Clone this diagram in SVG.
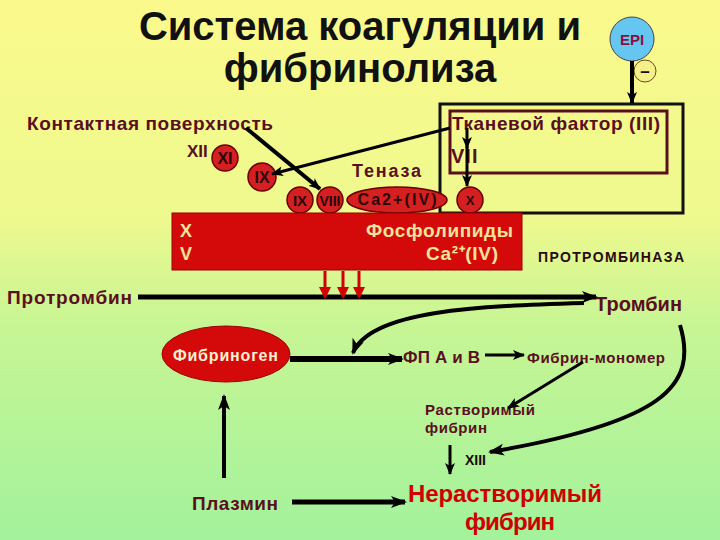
<svg xmlns="http://www.w3.org/2000/svg" width="720" height="540" viewBox="0 0 720 540">
<defs>
<linearGradient id="bg" x1="0" y1="0" x2="0" y2="1">
<stop offset="0" stop-color="#fbf98c"/>
<stop offset="0.4" stop-color="#eef98e"/>
<stop offset="0.6" stop-color="#c8f594"/>
<stop offset="1" stop-color="#a2f29c"/>
</linearGradient>
<marker id="ah" markerUnits="userSpaceOnUse" markerWidth="16" markerHeight="12" refX="14" refY="6" orient="auto">
<path d="M0,0 L16,6 L0,12 L4,6 Z" fill="#000"/>
</marker>
<marker id="ahs" markerUnits="userSpaceOnUse" markerWidth="12" markerHeight="10" refX="11" refY="5" orient="auto">
<path d="M0,0 L12,5 L0,10 L3,5 Z" fill="#000"/>
</marker>
<marker id="ahr" markerUnits="userSpaceOnUse" markerWidth="12" markerHeight="16" refX="10" refY="6" orient="auto">
<path d="M0,0 L12,6 L0,12 Z" fill="#d00000"/>
</marker>
<style>
text{font-family:"Liberation Sans",Arial,sans-serif;font-weight:bold}
.m{fill:#5a0f1e}
.d{fill:#2a0508}
.cell{fill:#d42020;stroke:#6a0000;stroke-width:1.5}
.ln{stroke:#000;fill:none}
.y{fill:#f3e49a}
</style>
</defs>
<rect width="720" height="540" fill="url(#bg)"/>

<g id="title">
<text x="360" y="40" font-size="40" text-anchor="middle" fill="#111">Система коагуляции и</text>
<text x="360" y="82" font-size="40" text-anchor="middle" fill="#111">фибринолиза</text>
</g>

<g id="epi">
<circle cx="632" cy="39" r="22" fill="#66c6f2" stroke="#444" stroke-width="1"/>
<text x="632" y="45" font-size="15" text-anchor="middle" fill="#8a1040">EPI</text>
<circle cx="645" cy="71" r="11" fill="#f5f08a" stroke="#6a4a20" stroke-width="1"/>
<text x="645" y="77" font-size="17" text-anchor="middle" fill="#111">–</text>
</g>

<g id="tissue-factor">
<rect x="440" y="104" width="243" height="109" fill="none" stroke="#111" stroke-width="3"/>
<rect x="450" y="111" width="217" height="62" fill="none" stroke="#5a0f1e" stroke-width="3"/>
<text x="452" y="130" font-size="19" textLength="208" class="m">Тканевой фактор (III)</text>
<text x="451" y="163" font-size="20" letter-spacing="1" class="m">VII</text>
</g>

<g id="contact">
<text x="27" y="130" font-size="19" textLength="246" class="m">Контактная поверхность</text>
<text x="187" y="157" font-size="17" class="m">XII</text>
</g>

<g id="xi"><circle cx="225" cy="158" r="13" class="cell"/><text x="225" y="164" font-size="16" text-anchor="middle" class="d">XI</text></g>
<g id="ix1"><circle cx="262" cy="177" r="14" class="cell"/><text x="262" y="183" font-size="16" text-anchor="middle" class="d">IX</text></g>
<g id="tenase"><text x="352" y="177" font-size="18" textLength="69" class="m">Теназа</text></g>
<g id="ix2"><circle cx="300" cy="200" r="13" class="cell"/><text x="300" y="206" font-size="15" text-anchor="middle" class="d">IX</text></g>
<g id="viii"><circle cx="330" cy="200" r="13" class="cell"/><text x="330" y="206" font-size="14" text-anchor="middle" class="d">VIII</text></g>
<g id="ca"><ellipse cx="397" cy="200" rx="50" ry="13" class="cell"/><text x="397" y="205" font-size="16" text-anchor="middle" textLength="79" class="d" font-family="Liberation Mono">Ca2+(IV)</text></g>
<g id="x"><circle cx="470" cy="200" r="13" class="cell"/><text x="470" y="205" font-size="13" text-anchor="middle" class="d">X</text></g>

<g id="prothrombinase">
<rect x="172" y="213" width="350" height="57" fill="#d40a0a" stroke="#9a0000" stroke-width="1"/>
<text x="180" y="237" font-size="18" class="y">X</text>
<text x="180" y="260" font-size="18" class="y">V</text>
<text x="366" y="237" font-size="19" textLength="147" class="y">Фосфолипиды</text>
<text x="426" y="260" font-size="19" textLength="72" class="y">Ca²⁺(IV)</text>
<text x="538" y="262" font-size="14" textLength="146" fill="#2a0a0a">ПРОТРОМБИНАЗА</text>
</g>

<g id="prothrombin"><text x="7" y="304" font-size="19" textLength="125" class="m">Протромбин</text></g>
<g id="thrombin"><text x="595" y="311" font-size="20" textLength="87" class="m">Тромбин</text></g>
<g id="fibrinogen"><ellipse cx="226" cy="354" rx="64" ry="28" fill="#d40a0a" stroke="#9a0000"/><text x="173" y="361" font-size="16" textLength="105" fill="#fbf1d0">Фибриноген</text></g>
<g id="fpab"><text x="403" y="363" font-size="17" textLength="77" class="m">ФП А и В</text></g>
<g id="monomer"><text x="527" y="363" font-size="15" textLength="138" class="m">Фибрин-мономер</text></g>
<g id="soluble"><text x="425" y="415" font-size="15" textLength="110" class="m">Растворимый</text><text x="425" y="433" font-size="15" textLength="62" class="m">фибрин</text></g>
<g id="xiii"><text x="465" y="465" font-size="14" textLength="21" fill="#1a0a0a">XIII</text></g>
<g id="insoluble"><text x="408" y="502" font-size="24" textLength="194" fill="#d00000">Нерастворимый</text><text x="465" y="530" font-size="24" textLength="90" fill="#d00000">фибрин</text></g>
<g id="plasmin"><text x="192" y="510" font-size="19" textLength="86" class="m">Плазмин</text></g>

<g id="connectors">
<line x1="632" y1="61" x2="632" y2="103" class="ln" stroke-width="4" marker-end="url(#ahs)"/>
<line x1="450" y1="128" x2="272" y2="174" class="ln" stroke-width="3" marker-end="url(#ahs)"/>
<line x1="246" y1="128" x2="320" y2="189" class="ln" stroke-width="4" marker-end="url(#ahs)"/>
<line x1="467" y1="128" x2="467" y2="148" class="ln" stroke-width="3" marker-end="url(#ahs)"/>
<line x1="467" y1="146" x2="467" y2="186" class="ln" stroke-width="3" marker-end="url(#ahs)"/>
<line x1="138" y1="297" x2="596" y2="297" class="ln" stroke-width="5" marker-end="url(#ah)"/>
<line x1="325" y1="271" x2="325" y2="297" stroke="#d00000" stroke-width="3" marker-end="url(#ahr)"/>
<line x1="343" y1="271" x2="343" y2="297" stroke="#d00000" stroke-width="3" marker-end="url(#ahr)"/>
<line x1="359" y1="271" x2="359" y2="297" stroke="#d00000" stroke-width="3" marker-end="url(#ahr)"/>
<path d="M584 303 C480 306 370 310 353 353" class="ln" stroke-width="4" marker-end="url(#ah)"/>
<line x1="290" y1="359" x2="402" y2="359" class="ln" stroke-width="6" marker-end="url(#ah)"/>
<line x1="485" y1="355" x2="524" y2="355" class="ln" stroke-width="3" marker-end="url(#ahs)"/>
<line x1="583" y1="362" x2="508" y2="408" class="ln" stroke-width="3" marker-end="url(#ahs)"/>
<path d="M680 325 C698 385 665 422 490 452" class="ln" stroke-width="4" marker-end="url(#ah)"/>
<line x1="450" y1="445" x2="450" y2="474" class="ln" stroke-width="3" marker-end="url(#ahs)"/>
<line x1="292" y1="502" x2="405" y2="502" class="ln" stroke-width="5" marker-end="url(#ah)"/>
<line x1="224" y1="478" x2="224" y2="396" class="ln" stroke-width="4" marker-end="url(#ah)"/>
</g>
</svg>
